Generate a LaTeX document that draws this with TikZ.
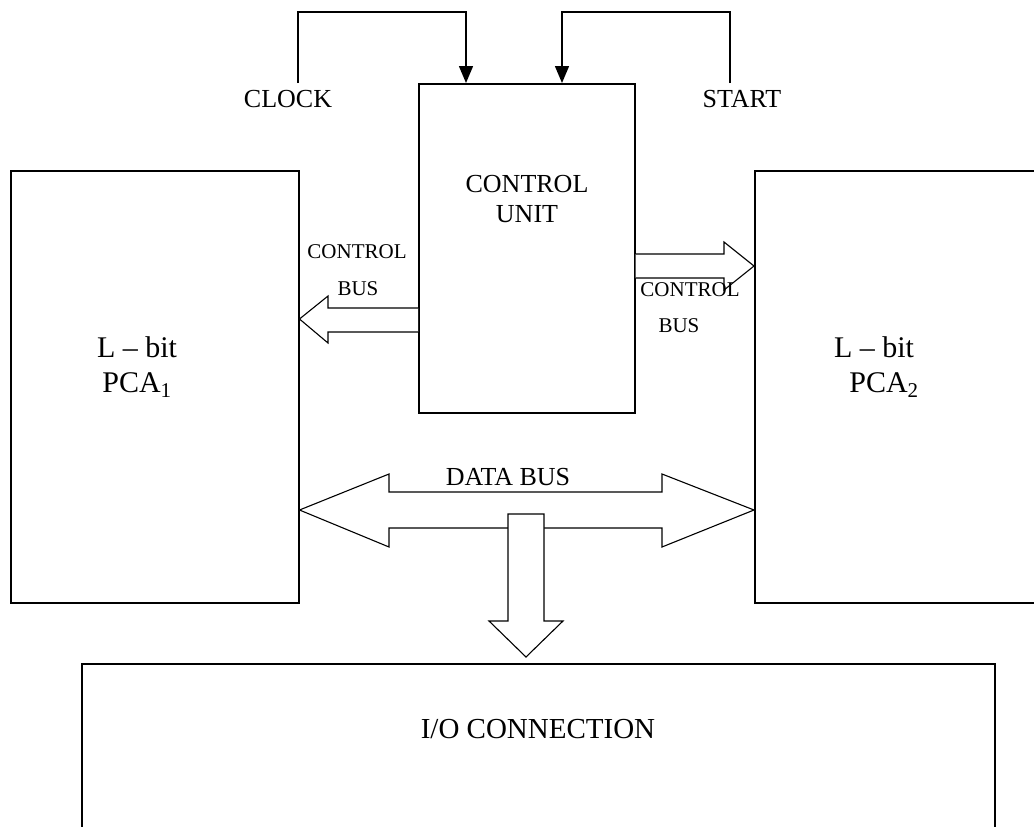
\documentclass[tikz,border=0pt]{standalone}
\usepackage{fontspec}
\setmainfont{Liberation Serif}
\usetikzlibrary{arrows.meta}
\tikzset{
	blok/.style={draw, line width=1.5pt, inner sep=0pt},
	lbl/.style={inner sep=0pt, align=center, font=\fontsize{26}{30}\selectfont},
	big/.style={inner sep=0pt, align=center, font=\fontsize{30}{35}\selectfont},
	small/.style={inner sep=0pt, font=\fontsize{21}{24}\selectfont},
	wire/.style={line width=1.5pt, -{Triangle[width=14pt,length=17pt]}},
	busarrow/.style={line width=1.1pt, fill=white, line join=miter}
}
\begin{document}
\begin{tikzpicture}
			[x=1pt, y=-1pt]
			\useasboundingbox (0,0) rectangle (1034,827);
			\clip (0,0) rectangle (1034,827);
			% blocks
			\node[blok, minimum width=288pt, minimum height=432pt, anchor=north west] (pca1) at (10,170) {};
			\node[blok, minimum width=300pt, minimum height=432pt, anchor=north west] (pca2) at (754,170) {};
			\node[blok, minimum width=216pt, minimum height=329pt, anchor=north west] (cu) at (418,83) {};
			\node[blok, minimum width=913pt, minimum height=200pt, anchor=north west] (io) at (81,663) {};
			% free ends
			\coordinate (clkend) at (298,83);
			\coordinate (clkin) at (466,83);
			\coordinate (startend) at (730,83);
			\coordinate (startin) at (562,83);
			\coordinate (iotip) at (526,657);
			% control buses
			\draw[busarrow] (cu.west |- 0,308) -- (328,308) -- (328,296) -- (pca1.east |- 0,319)
				-- (328,343) -- (328,332) -- (cu.west |- 0,332);
			\draw[busarrow] (cu.east |- 0,254) -- (724,254) -- (724,242) -- (pca2.west |- 0,266)
				-- (724,290) -- (724,278) -- (cu.east |- 0,278);
			% data bus
			\draw[busarrow] (pca1.east |- 0,510) -- (389,474) -- (389,492) -- (662,492) -- (662,474)
				-- (pca2.west |- 0,510) -- (662,547) -- (662,528) -- (389,528) -- (389,547) -- cycle;
			\draw[busarrow] (508,514) -- (544,514) -- (544,621) -- (563,621) -- (iotip)
				-- (489,621) -- (508,621) -- cycle;
			% clock and start
			\draw[wire] (clkend) |- (466,12) -- (clkin);
			\draw[wire] (startend) |- (562,12) -- (startin);
			% labels
			\node[lbl] (clock) at (288,99) {CLOCK};
			\node[lbl] (start) at (742,99) {START};
			\node[lbl] (cutext) at (527,199) {CONTROL\\UNIT};
			\node[big] (pca1text) at (137,367) {L – bit\\PCA\textsubscript{1}};
			\node[big] (pca2text) at (874,367) {L – bit\\\hspace*{20pt}PCA\textsubscript{2}};
			\node[small] (cbus1a) at (357,252) {CONTROL};
			\node[small] (cbus1b) at (358,289) {BUS};
			\node[small] (cbus2a) at (690,290) {CONTROL};
			\node[small] (cbus2b) at (679,326) {BUS};
			\node[lbl] (dbus) at (508,477) {DATA BUS};
			\node[inner sep=0pt, font=\fontsize{29}{33}\selectfont] (iotext) at (538,729) {I/O CONNECTION};
		\end{tikzpicture}
\end{document}
